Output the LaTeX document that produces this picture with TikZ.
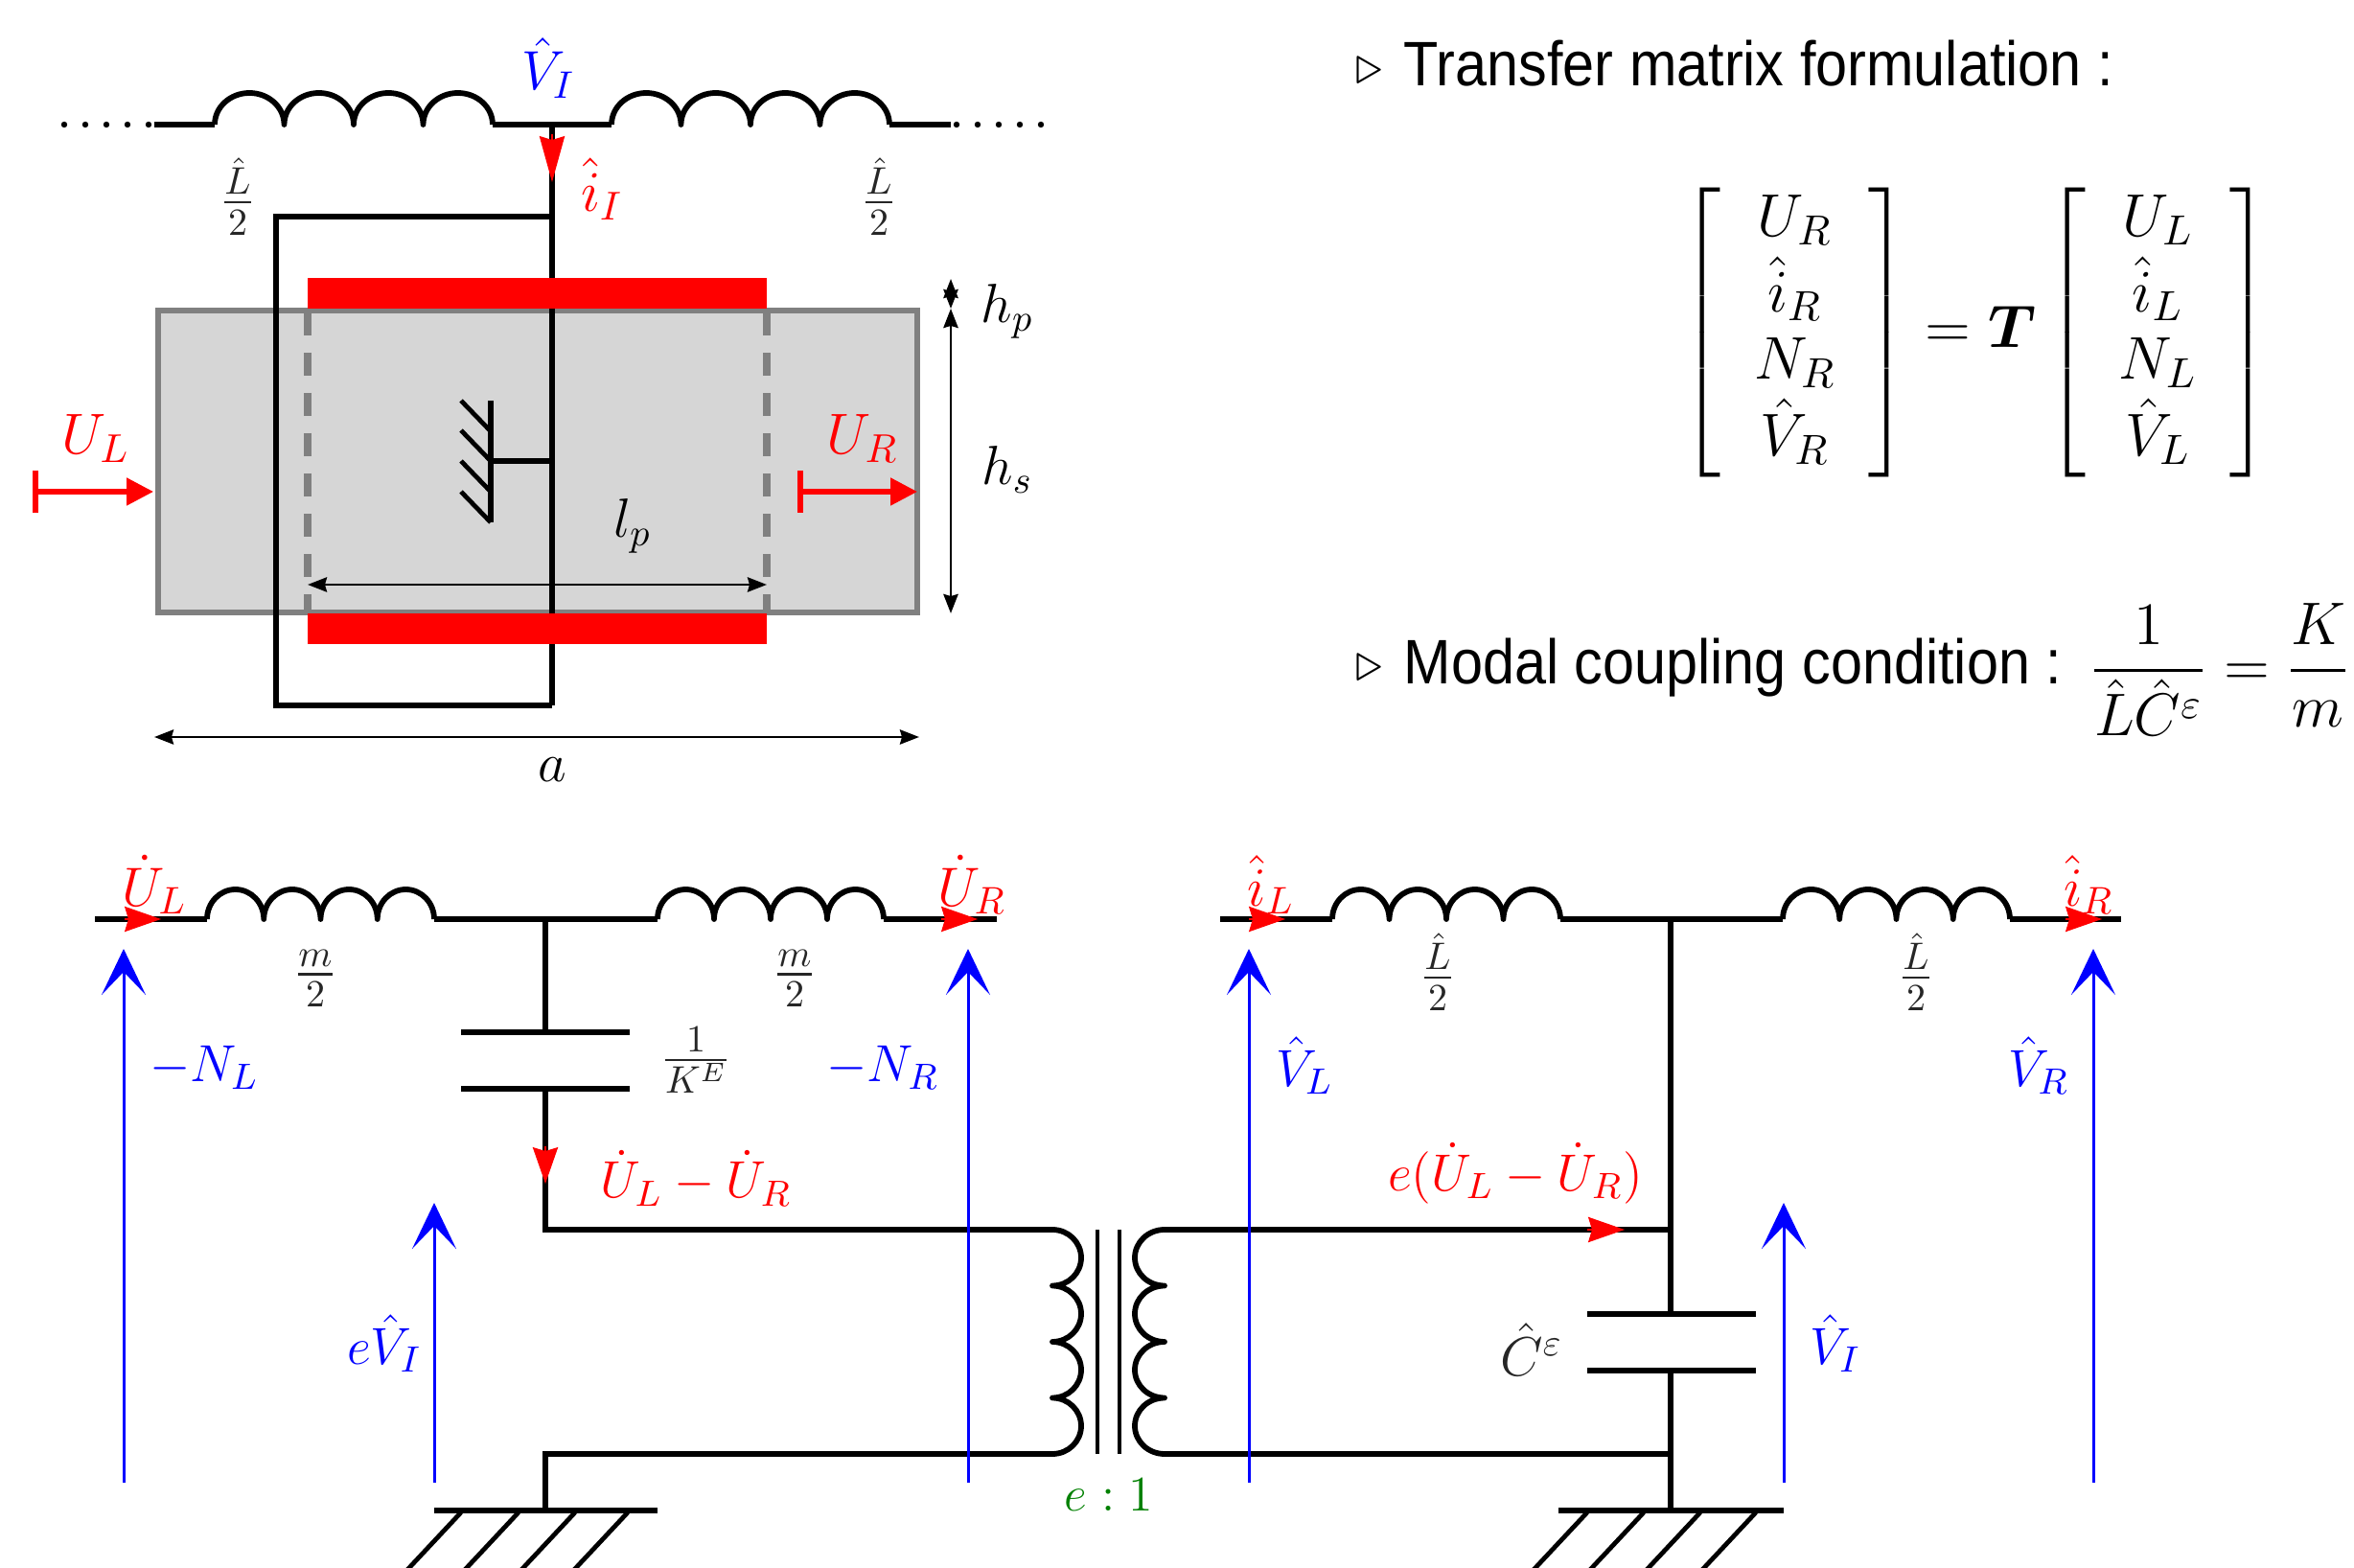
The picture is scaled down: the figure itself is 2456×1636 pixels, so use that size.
\documentclass[tikz,border=0pt]{standalone}
\usepackage{fix-cm}
\usepackage{amsmath,amssymb}
\usepackage[no-math]{fontspec}
\newfontfamily\sansf[FakeStretch=0.905]{Liberation Sans}
\usetikzlibrary{arrows.meta}
\definecolor{platered}{RGB}{255,0,0}
\definecolor{pblue}{RGB}{0,0,255}
\definecolor{pgreen}{RGB}{0,128,0}
% picture is laid out in reference pixels, y downward
\newcommand{\coilH}[4]{% x0, y, arc width, arc height
  \draw[wire] (#1,#2)
  \foreach \kk in {1,2,3,4}{ arc[start angle=180,end angle=360,x radius=#3/2,y radius=#4] };}
\tikzset{
  wire/.style={line width=1.45pt,black,line cap=butt,line join=round},
  thinbar/.style={line width=1.1pt,black},
  dim/.style={line width=.7pt,black,{Stealth[length=5pt,width=3.8pt,inset=.5pt]}-{Stealth[length=5pt,width=3.8pt,inset=.5pt]}},
  volt/.style={line width=.75pt,pblue,-{Stealth[length=12pt,width=11.5pt,inset=6pt]}},
  redtip/.style={line width=.3pt,platered,-{Stealth[length=9.5pt,width=6.6pt,inset=1pt]}},
  redtipl/.style={line width=.3pt,platered,-{Stealth[length=12pt,width=6.6pt,inset=1pt]}},
  port/.style={line width=1.3pt,platered,{Bar[width=11pt,line width=1.5pt]}-{Stealth[length=7pt,width=7pt,inset=0pt]}},
  lab/.style={font=\Large,inner sep=0pt},
  rlab/.style={lab,text=platered},
  blab/.style={lab,text=pblue},
  klab/.style={lab,text=black!85},
  toplab/.style={font=\fontsize{15}{18}\selectfont},
  botlab/.style={font=\fontsize{13.6}{17}\selectfont},
  sidelab/.style={inner sep=0pt,font=\fontsize{15.7}{18.2}\selectfont},
  htxt/.style={inner sep=0pt,anchor=base west,font=\sansf\fontsize{16.4}{20}\selectfont},
  hatch/.style={line width=1.2pt,black},
}
\begin{document}
\begin{tikzpicture}[x=0.25pt,y=-0.25pt]
\useasboundingbox (0,0) rectangle (2456,1636);

%% ---------- top left: plate cross-section
\coordinate (topL) at (161,130);
\coordinate (topC1) at (224,130);
\coordinate (topC2) at (514,130);
\coordinate (topJ) at (576,130);
\coordinate (topC3) at (638,130);
\coordinate (topC4) at (928,130);
\coordinate (topR) at (992,130);
\coordinate (dotL) at (67,130);
\coordinate (dotR) at (1086,130);
\coordinate (loopTL) at (288,226);
\coordinate (loopTR) at (576,226);
\coordinate (loopBL) at (288,736);
\coordinate (loopBR) at (576,736);

\draw[fill=black!16,draw=black!50,line width=1.5pt] (165,324) rectangle (957,639);
\draw[draw=black!50,line width=1.8pt,dash pattern=on 6pt off 4.5pt] (321,326) -- (321,637);
\draw[draw=black!50,line width=1.8pt,dash pattern=on 6pt off 4.5pt] (800,326) -- (800,637);

\draw[line cap=round,line width=1.6pt,dash pattern=on 0pt off 5.5pt] (dotL) -- (topL);
\draw[line cap=round,line width=1.6pt,dash pattern=on 0pt off 5.5pt] (dotR) -- (topR);
\draw[wire] (topL) -- (topC1);
\coilH{224}{130}{72.5}{33}
\draw[wire] (topC2) -- (topC3);
\coilH{638}{130}{72.5}{33}
\draw[wire] (topC4) -- (topR);
\draw[wire] (topJ) -- (loopBR);
\draw[wire,line join=miter] (loopTR) -- (loopTL) -- (loopBL) -- (loopBR);

% inner ground
\coordinate (gndTop) at (512,418);
\coordinate (gndBot) at (512,545);
\coordinate (gndMid) at (512,481);
\coordinate (gndJ) at (576,481);
\draw[wire] (gndTop) -- (gndBot);
\draw[wire] (gndMid) -- (gndJ);
\foreach \yy in {418,449,481,513}
  \draw[hatch] (481,\yy) -- (512,\yy+32);

\fill[platered] (321,290) rectangle (800,322);
\fill[platered] (321,640) rectangle (800,672);

\coordinate (iA) at (576,140);
\coordinate (iB) at (576,190);
\draw[redtipl] (iA) -- (iB);

\coordinate (ulA) at (34,513);
\coordinate (ulB) at (160,513);
\coordinate (urA) at (832,513);
\coordinate (urB) at (957,513);
\draw[port] (ulA) -- (ulB);
\draw[port] (urA) -- (urB);

\coordinate (lpA) at (321,610);
\coordinate (lpB) at (800,610);
\draw[dim] (lpA) -- (lpB);
\coordinate (aA) at (161,769);
\coordinate (aB) at (959,769);
\draw[dim] (aA) -- (aB);
\coordinate (hA) at (992,291);
\coordinate (hB) at (992,322);
\coordinate (hC) at (992,640);
\draw[dim] (hA) -- (hB);
\draw[dim] (hB) -- (hC);

\node[blab] (tVI) at (572,71) {$\hat V_I$};
\node[rlab,toplab] (tiI) at (628,197) {$\hat i_I$};
\node[klab] (tL1) at (248,205) {$\frac{\hat L}{2}$};
\node[klab] (tL2) at (917,205) {$\frac{\hat L}{2}$};
\node[rlab,toplab] (tUL) at (100,458) {$U_L$};
\node[rlab,toplab] (tUR) at (900,458) {$U_R$};
\node[lab] (thp) at (1051,325) {$h_p$};
\node[lab] (ths) at (1051,490) {$h_s$};
\node[lab] (tlp) at (660,549) {$l_p$};
\node[lab] (ta) at (576,803) {$a$};

%% ---------- bottom left circuit
\coordinate (bL0) at (99,959);
\coordinate (bL1) at (216,959);
\coordinate (bL2) at (453,959);
\coordinate (bJ) at (569,959);
\coordinate (bL3) at (686,959);
\coordinate (bL4) at (922,959);
\coordinate (bL5) at (1040,959);
\coordinate (capT) at (569,1077);
\coordinate (capB) at (569,1136);
\coordinate (bCorner) at (569,1283);
\coordinate (xL1) at (1098,1283);
\coordinate (xL2) at (1098,1517);
\coordinate (bLow) at (569,1517);
\coordinate (gnd1) at (569,1576);

\draw[wire] (bL0) -- (bL1);
\coilH{216}{959}{59.25}{31}
\draw[wire] (bL2) -- (bL3);
\coilH{686}{959}{59}{31}
\draw[wire] (bL4) -- (bL5);
\draw[wire] (bJ) -- (capT);
\draw[wire] (481,1077) -- (657,1077);
\draw[wire] (481,1136) -- (657,1136);
\draw[wire,line join=miter] (capB) -- (bCorner) -- (xL1);
\draw[wire,line join=miter] (xL2) -- (bLow) -- (gnd1);
\draw[wire] (453,1576) -- (686,1576);
\foreach \xx in {481,541,600,655}
  \draw[hatch] (\xx,1578) -- (\xx-58,1640);

%% ---------- transformer
\draw[wire] (xL1) \foreach \kk in {1,2,3,4}{ arc[start angle=270,end angle=450,x radius=30,y radius=29.25] };
\coordinate (xR1) at (1215,1283);
\coordinate (xR2) at (1215,1517);
\draw[wire] (xR1) \foreach \kk in {1,2,3,4}{ arc[start angle=270,end angle=90,x radius=31,y radius=29.25] };
\draw[thinbar] (1145,1283) -- (1145,1517);
\draw[thinbar] (1168,1283) -- (1168,1517);

%% ---------- bottom right circuit
\coordinate (cL0) at (1273,959);
\coordinate (cL1) at (1390,959);
\coordinate (cL2) at (1628,959);
\coordinate (cJ) at (1743,959);
\coordinate (cL3) at (1860,959);
\coordinate (cL4) at (2097,959);
\coordinate (cL5) at (2213,959);
\coordinate (cUp) at (1743,1283);
\coordinate (cLow) at (1743,1517);
\coordinate (capET) at (1743,1371);
\coordinate (capEB) at (1743,1430);
\coordinate (gnd2) at (1743,1576);

\draw[wire] (cL0) -- (cL1);
\coilH{1390}{959}{59.5}{31}
\draw[wire] (cL2) -- (cL3);
\coilH{1860}{959}{59.25}{31}
\draw[wire] (cL4) -- (cL5);
\draw[wire] (cJ) -- (capET);
\draw[wire] (1656,1371) -- (1832,1371);
\draw[wire] (1656,1430) -- (1832,1430);
\draw[wire] (capEB) -- (gnd2);
\draw[wire] (xR1) -- (cUp);
\draw[wire] (xR2) -- (cLow);
\draw[wire] (1626,1576) -- (1861,1576);
\foreach \xx in {1656,1715,1774,1832}
  \draw[hatch] (\xx,1578) -- (\xx-58,1640);

%% ---------- voltage arrows
\foreach \xx in {129,1010,1303,2184}
  \draw[volt] (\xx,1547) -- (\xx,990);
\foreach \xx in {453,1861}
  \draw[volt] (\xx,1547) -- (\xx,1255);

%% ---------- red current arrows
\foreach \xx in {130,982,1303,2155}
  \draw[redtip] (\xx,959) -- (\xx+38,959);
\draw[redtip] (569,1196) -- (569,1235);
\draw[redtip] (1656,1283) -- (1695,1283);

%% ---------- labels, bottom
\node[rlab] (lUL) at (161,923) {$\dot U_L$};
\node[rlab] (lUR) at (1014,923) {$\dot U_R$};
\node[rlab] (liL) at (1326,923) {$\hat i_L$};
\node[rlab] (liR) at (2179,923) {$\hat i_R$};
\node[klab] (lm1) at (329,1021) {$\frac{m}{2}$};
\node[klab] (lm2) at (829,1021) {$\frac{m}{2}$};
\node[klab] (lL1) at (1500,1014) {$\frac{\hat L}{2}$};
\node[klab] (lL2) at (1999,1014) {$\frac{\hat L}{2}$};
\node[klab] (lKE) at (726,1106) {$\frac{1}{K^E}$};
\node[blab,botlab] (lNL) at (213,1114) {$-N_L$};
\node[blab,botlab] (lNR) at (921,1114) {$-N_R$};
\node[blab,botlab] (lVL) at (1361,1112) {$\hat V_L$};
\node[blab,botlab] (lVR) at (2127,1112) {$\hat V_R$};
\node[rlab,botlab] (lUd) at (726,1229) {$\dot U_L-\dot U_R$};
\node[rlab,botlab] (leUd) at (1581,1224) {$e(\dot U_L-\dot U_R)$};
\node[blab,botlab] (leV) at (401,1402) {$e\hat V_I$};
\node[blab,botlab] (lVI) at (1915,1402) {$\hat V_I$};
\node[klab] (lC) at (1598,1408) {$\hat C^\varepsilon$};
\node[lab,text=pgreen,font=\fontsize{13}{16}\selectfont] (ltr) at (1157,1560) {$e:1$};

%% ---------- right column
\node[lab] (b1) at (1429,74) {$\triangleright$};
\node[htxt] (h1) at (1464,90) {Transfer matrix formulation :};
\node[sidelab] (mat) at (2061,347) {\setlength{\arraycolsep}{8.6pt}\renewcommand{\arraystretch}{.96}$\left[\begin{array}{c}U_R\\ \hat i_R\\ N_R\\ \hat V_R\end{array}\right]=\boldsymbol{T}\left[\begin{array}{c}U_L\\ \hat i_L\\ N_L\\ \hat V_L\end{array}\right]$};
\node[lab] (b2) at (1429,697) {$\triangleright$};
\node[htxt] (h2) at (1464,714) {Modal coupling condition :};
\node[sidelab] (frac) at (2316,699) {$\displaystyle\frac{1}{\hat L\hat C^\varepsilon}=\frac{K}{m}$};
\end{tikzpicture}
\end{document}
